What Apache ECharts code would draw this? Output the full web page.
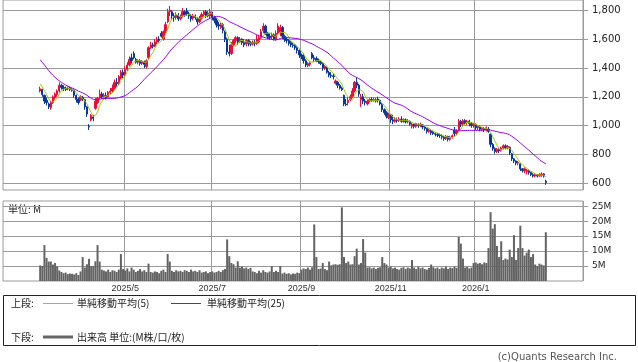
<!DOCTYPE html>
<html><head><meta charset="utf-8">
<script src="https://cdn.jsdelivr.net/npm/echarts@6/dist/echarts.min.js"></script>
<style>html,body{margin:0;padding:0;background:#fff}#c{width:638px;height:362px}</style>
</head><body><div id="c"></div>
<script>
// closes of the 24 sessions before the first drawn candle (for the moving averages)
const priorClose = [1660,1640,1630,1620,1600,1590,1580,1570,1555,
  1520,1490,1470,1450,1420,1400,1380,1370,1360,1340,1330,
  1320,1300,1290,1280];
const openP = [
1240,1250,1210,1175,1150,1125,1160,1195,1215,1240,
1280,1265,1260,1255,1260,1250,1245,1210,1185,1180,
1195,1180,1130,995,1040,1060,1120,1160,1195,1220,
1200,1210,1200,1230,1240,1260,1300,1290,1330,1370,
1350,1390,1420,1470,1500,1460,1440,1450,1430,1440,
1410,1470,1540,1560,1550,1580,1600,1640,1600,1650,
1720,1790,1790,1760,1750,1765,1740,1760,1790,1795,
1775,1760,1745,1760,1740,1720,1745,1770,1790,1760,
1760,1780,1750,1730,1700,1680,1700,1650,1600,1510,
1500,1560,1590,1610,1580,1600,1575,1565,1590,1570,
1565,1580,1570,1580,1610,1660,1690,1640,1620,1615,
1630,1600,1640,1650,1680,1620,1600,1590,1575,1560,
1555,1540,1520,1490,1480,1450,1415,1425,1500,1470,
1465,1455,1440,1430,1395,1400,1370,1350,1345,1295,
1300,1280,1260,1210,1150,1160,1180,1200,1240,1300,
1280,1180,1200,1170,1150,1170,1180,1175,1180,1185,
1175,1145,1110,1090,1055,1075,1040,1030,1040,1035,
1045,1030,1040,1025,1030,995,1010,995,1010,1000,
1005,990,980,960,965,955,945,940,935,925,
920,910,925,905,920,970,945,970,1030,1010,
1035,1020,1030,1015,1000,1005,985,990,975,980,
970,975,940,870,840,820,835,830,845,860,
845,850,805,770,755,740,735,700,685,680,
690,675,660,650,655,650,655,665,615];
const closeP = [
1255,1215,1170,1160,1130,1160,1200,1220,1240,1280,
1265,1255,1250,1260,1250,1245,1210,1180,1160,1200,
1185,1130,1080,990,1070,1050,1170,1190,1220,1200,
1210,1195,1230,1240,1260,1300,1290,1340,1370,1350,
1390,1420,1460,1450,1470,1440,1450,1430,1445,1425,
1450,1540,1560,1550,1580,1600,1590,1620,1650,1700,
1790,1800,1760,1750,1765,1740,1755,1790,1770,1775,
1760,1740,1760,1750,1720,1745,1770,1790,1760,1780,
1790,1750,1730,1700,1690,1700,1660,1600,1510,1500,
1560,1590,1610,1580,1600,1575,1560,1590,1570,1565,
1580,1570,1600,1610,1650,1690,1640,1620,1610,1630,
1600,1640,1690,1680,1620,1600,1590,1570,1560,1555,
1540,1520,1490,1480,1450,1420,1430,1435,1470,1460,
1450,1445,1430,1400,1410,1370,1350,1345,1340,1310,
1280,1260,1250,1150,1145,1175,1200,1240,1300,1280,
1220,1200,1170,1160,1170,1180,1175,1180,1170,1175,
1150,1110,1090,1065,1075,1040,1030,1040,1035,1045,
1030,1040,1025,1030,1010,1010,995,1015,1000,1010,
990,980,960,970,950,945,940,935,930,920,
910,925,905,920,930,945,965,1030,1010,1035,
1020,1030,1015,1000,1010,985,995,975,980,970,
985,960,870,840,820,835,825,845,860,845,
855,810,770,755,740,745,700,690,700,690,
675,660,650,660,650,660,665,650,605];
const lowP = [
1230,1200,1150,1140,1115,1110,1150,1180,1200,1230,
1250,1240,1240,1245,1240,1235,1195,1160,1145,1170,
1170,1110,1060,970,1030,1030,1110,1150,1180,1185,
1180,1180,1195,1220,1230,1250,1270,1280,1320,1330,
1340,1380,1410,1430,1460,1430,1425,1415,1420,1400,
1395,1460,1530,1535,1545,1565,1575,1610,1590,1640,
1710,1760,1740,1720,1735,1725,1730,1750,1755,1760,
1740,1720,1730,1735,1700,1710,1735,1755,1745,1750,
1740,1730,1710,1680,1665,1670,1640,1580,1490,1480,
1490,1550,1570,1560,1575,1560,1545,1550,1550,1550,
1555,1550,1560,1570,1600,1640,1630,1600,1595,1600,
1590,1590,1630,1620,1600,1580,1570,1555,1545,1540,
1525,1500,1470,1460,1430,1405,1405,1410,1460,1440,
1440,1430,1420,1380,1385,1360,1335,1330,1320,1285,
1260,1250,1240,1135,1135,1140,1170,1195,1230,1260,
1200,1130,1150,1140,1140,1160,1165,1165,1160,1160,
1140,1095,1075,1050,1045,1020,1010,1020,1020,1025,
1020,1020,1015,1015,1000,980,980,985,985,990,
975,965,945,950,935,935,925,920,915,905,
895,900,890,895,910,925,935,960,990,1000,
1005,1005,995,985,985,970,970,960,960,955,
960,950,850,825,805,810,810,820,835,835,
835,795,755,740,725,725,685,675,670,660,
660,650,640,640,640,645,645,640,590];
const highP = [
1270,1255,1215,1195,1160,1170,1210,1230,1250,1300,
1290,1280,1270,1270,1270,1260,1250,1215,1195,1210,
1205,1185,1135,1010,1080,1075,1190,1200,1250,1235,
1225,1230,1240,1260,1285,1320,1330,1350,1385,1390,
1410,1440,1480,1500,1515,1470,1460,1460,1455,1450,
1460,1550,1580,1575,1600,1615,1620,1655,1660,1720,
1810,1830,1800,1780,1785,1780,1770,1815,1800,1815,
1790,1775,1775,1770,1750,1760,1785,1800,1800,1795,
1810,1790,1760,1745,1720,1715,1710,1660,1610,1560,
1580,1600,1620,1620,1615,1605,1600,1600,1600,1585,
1590,1595,1630,1630,1670,1710,1700,1650,1640,1645,
1640,1660,1710,1700,1690,1630,1615,1600,1585,1575,
1565,1550,1530,1500,1500,1460,1440,1445,1510,1490,
1480,1465,1450,1440,1420,1410,1380,1370,1360,1320,
1310,1290,1270,1215,1185,1195,1215,1260,1310,1335,
1290,1220,1220,1185,1180,1190,1195,1195,1190,1200,
1180,1155,1120,1100,1090,1080,1075,1060,1055,1060,
1065,1050,1050,1045,1035,1020,1015,1020,1015,1020,
1010,995,985,980,975,965,955,950,945,940,
930,935,930,930,940,990,975,1045,1040,1045,
1045,1040,1040,1025,1020,1015,1005,1000,990,990,
995,990,945,880,850,845,845,855,870,870,
865,855,810,775,760,755,740,705,710,700,
695,680,670,670,665,670,675,670,625];
// volume in millions of shares
const volume = [
5.2,5.0,12,7.7,6.5,6.5,5.5,6.0,4.9,3.5,
3.0,2.6,2.8,2.3,2.5,2.4,2.2,2.6,2.0,3.2,
8.0,4.5,5.6,7.4,5.0,5.0,6.6,12,6.5,3.8,
3.5,3.2,3.8,3.0,3.6,3.4,3.0,3.8,9.0,4.0,
3.5,4.2,3.2,4.5,3.8,3.0,3.4,4.0,3.2,3.6,
3.0,5.8,3.0,2.8,3.2,3.0,2.6,3.4,3.8,3.0,
9.0,6.5,3.4,3.0,3.6,3.2,3.4,3.0,3.6,3.4,
3.0,3.8,3.2,3.4,3.0,3.6,2.8,3.0,3.2,2.6,
3.0,3.2,2.8,3.0,3.4,3.0,3.6,4.0,13.9,8.3,
6.0,5.6,4.5,6.6,4.5,4.8,4.2,4.5,4.0,4.4,
3.2,3.0,2.6,3.4,2.8,3.6,3.0,2.8,3.2,5.0,
3.0,3.4,3.0,5.0,2.5,2.8,2.4,2.6,2.2,2.5,
2.4,2.8,2.6,3.8,4.2,4.0,4.5,3.8,4.6,18.9,
8.0,4.0,4.2,6.0,4.0,3.6,6.5,5.2,5.5,5.6,
5.4,5.6,24.6,8.0,6.0,6.5,5.5,5.6,8.3,10.8,
5.5,6.0,14,9.5,4.5,4.6,4.2,4.5,4.0,4.4,
4.6,8.0,6.0,5.5,4.5,4.8,4.2,4.5,4.0,3.8,
4.4,4.6,4.0,4.5,4.2,7.0,4.5,4.0,4.8,4.2,
4.5,4.0,3.8,4.4,5.5,4.6,4.2,4.5,4.0,4.5,
4.2,4.8,4.0,4.5,4.3,4.8,4.4,14.7,12.5,7.5,
4.5,4.8,4.2,4.5,6.0,6.2,5.8,6.0,5.6,6.2,
6.0,11,23,17.5,19,11.7,8.0,13.3,7.0,7.5,
7.2,10.5,8.0,15.3,7.0,11,18.5,11,8.5,9.5,
10.5,8.0,9.0,5.5,5.0,5.8,5.5,5.2,16.3];
const firstDay = [2025, 3, 4];
const holidays = ['2025/3/20','2025/4/29','2025/5/5','2025/5/6','2025/7/21','2025/8/11',
  '2025/9/15','2025/9/23','2025/10/13','2025/11/3','2025/11/24','2025/12/31',
  '2026/1/1','2026/1/2','2026/1/12','2026/2/11','2026/2/23'];
const monthTicks = ['2025/5','2025/7','2025/9','2025/11','2026/1'];
const priceTicks = [600,800,1000,1200,1400,1600,1800];
const volTicks = [5,10,15,20,25];
const padLeft = 17, padRight = 17;

// trading-day categories
const dates = [];
const dt = new Date(firstDay[0], firstDay[1]-1, firstDay[2]);
while (dates.length < openP.length) {
  const key = dt.getFullYear()+'/'+(dt.getMonth()+1)+'/'+dt.getDate();
  const wd = dt.getDay();
  if (wd !== 0 && wd !== 6 && holidays.indexOf(key) < 0) dates.push(key);
  dt.setDate(dt.getDate()+1);
}
const cats = [];
for (let i=0;i<padLeft;i++) cats.push('L'+i);
dates.forEach(d=>cats.push(d));
for (let i=0;i<padRight;i++) cats.push('R'+i);
const tickSet = new Set();
monthTicks.forEach(m=>{ const i = dates.findIndex(d=>d.startsWith(m+'/')); if(i>=0) tickSet.add(i+padLeft); });
const isTick = (idx)=>tickSet.has(idx);

const pad = (arr)=>{ const a=[]; for(let i=0;i<padLeft;i++)a.push('-'); arr.forEach(v=>a.push(v)); for(let i=0;i<padRight;i++)a.push('-'); return a; };
const allClose = priorClose.concat(closeP);
function sma(n){
  const out=[]; const p=priorClose.length;
  for(let i=0;i<closeP.length;i++){ let s=0; for(let k=p+i-n+1;k<=p+i;k++) s+=allClose[k]; out.push(+(s/n).toFixed(1)); }
  return out;
}
const candles = openP.map((o,i)=>[o, closeP[i], lowP[i], highP[i]]);

const grey = '#9a9a9a';
const chart = echarts.init(document.getElementById('c'), null, {renderer:'canvas'});
const jp = '"Noto Sans CJK JP", sans-serif';
chart.setOption({
  animation:false,
  backgroundColor:'#fff',
  grid:[
    {left:3, top:0, width:580, height:190, show:true, borderColor:grey, borderWidth:1},
    {left:3, top:201, width:580, height:80, show:true, borderColor:grey, borderWidth:1}
  ],
  xAxis:[
    {type:'category', gridIndex:0, data:cats, boundaryGap:true,
     axisLine:{show:false}, axisTick:{show:false}, axisLabel:{show:false},
     splitLine:{show:true, interval:isTick, lineStyle:{color:grey, width:1}}},
    {type:'category', gridIndex:1, data:cats, boundaryGap:true,
     axisLine:{show:false}, axisTick:{show:false},
     axisLabel:{show:true, interval:isTick, margin:3, color:'#333', fontSize:9, fontFamily:'Liberation Sans',
       formatter:(v)=>v.split('/').slice(0,2).join('/')},
     splitLine:{show:true, interval:isTick, lineStyle:{color:grey, width:1}}}
  ],
  yAxis:[
    {type:'value', gridIndex:0, position:'right', min:553.5, max:1871, scale:true,
     axisLine:{show:false},
     axisTick:{show:true, length:5, customValues:priceTicks, lineStyle:{color:grey}},
     axisLabel:{customValues:priceTicks, margin:9, color:'#222', fontSize:10, fontFamily:'DejaVu Sans',
       formatter:(v)=>v.toLocaleString('en-US')},
     splitLine:{show:true, lineStyle:{color:grey, width:1}}},
    {type:'value', gridIndex:1, position:'right', min:0, max:26.74,
     axisLine:{show:false},
     axisTick:{show:true, length:5, customValues:volTicks, lineStyle:{color:grey}},
     axisLabel:{customValues:volTicks, margin:9, color:'#222', fontSize:9, fontFamily:'DejaVu Sans',
       formatter:(v)=>v+'M'},
     splitLine:{show:true, lineStyle:{color:grey, width:1}}}
  ],
  series:[
    {type:'candlestick', xAxisIndex:0, yAxisIndex:0, data:pad(candles), barWidth:1.8,
     itemStyle:{color:'#ee0a3a', color0:'#083896', borderColor:'#ee0a3a', borderColor0:'#083896', borderWidth:1}},
    {type:'line', xAxisIndex:0, yAxisIndex:0, data:pad(sma(5)), symbol:'none', smooth:false,
     lineStyle:{color:'#99cc00', width:1}, z:3},
    {type:'line', xAxisIndex:0, yAxisIndex:0, data:pad(sma(25)), symbol:'none', smooth:false,
     lineStyle:{color:'#9900ee', width:1}, z:3},
    {type:'bar', xAxisIndex:1, yAxisIndex:1, data:pad(volume), barWidth:2,
     itemStyle:{color:'#636363'}}
  ],
  graphic:[
    {type:'text', left:8, top:204, style:{text:'単位: M', fontSize:10, fontFamily:jp, fill:'#222'}},
    {type:'rect', shape:{x:3.5, y:295.5, width:632, height:50}, style:{fill:'none', stroke:'#222', lineWidth:1}},
    {type:'text', x:11, y:303, style:{text:'上段:', fontSize:10, fontFamily:jp, fill:'#222', textVerticalAlign:'middle'}},
    {type:'line', shape:{x1:43, y1:303.5, x2:73, y2:303.5}, style:{stroke:'#99cc00', lineWidth:1}},
    {type:'text', x:77, y:303, style:{text:'単純移動平均(5)', fontSize:10, fontFamily:jp, fill:'#222', textVerticalAlign:'middle'}},
    {type:'line', shape:{x1:171, y1:303.5, x2:201, y2:303.5}, style:{stroke:'#9900ee', lineWidth:1}},
    {type:'text', x:207, y:303, style:{text:'単純移動平均(25)', fontSize:10, fontFamily:jp, fill:'#222', textVerticalAlign:'middle'}},
    {type:'text', x:11, y:337, style:{text:'下段:', fontSize:10, fontFamily:jp, fill:'#222', textVerticalAlign:'middle'}},
    {type:'line', shape:{x1:43, y1:337, x2:73, y2:337}, style:{stroke:'#666', lineWidth:3}},
    {type:'text', x:77, y:337, style:{text:'出来高 単位:(M株/口/枚)', fontSize:10, fontFamily:jp, fill:'#222', textVerticalAlign:'middle'}},
    {type:'text', x:617, y:357, style:{text:'(c)Quants Research Inc.', fontSize:10, fontFamily:'DejaVu Sans', fill:'#555', textAlign:'right', textVerticalAlign:'middle'}}
  ]
});
</script></body></html>
